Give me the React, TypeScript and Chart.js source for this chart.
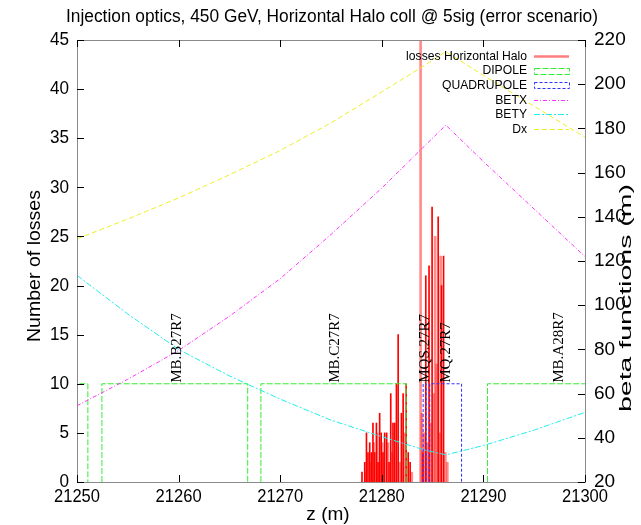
import React, { useEffect, useRef } from "react";
import { Chart, registerables } from "chart.js";

Chart.register(...registerables);

// ---- loss histogram (impulses along z) ----
const lossZ = [
  21278.05, 21278.32, 21278.49, 21278.64, 21278.81, 21278.98, 21279.13, 21279.3,
  21279.47, 21279.63, 21279.79, 21279.94, 21280.12, 21280.28, 21280.48, 21280.71,
  21280.88, 21281.1, 21281.27, 21281.44, 21281.61, 21281.93, 21282.1, 21282.4,
  21282.6, 21282.79, 21284.05, 21284.33, 21284.65, 21284.95, 21285.55, 21285.88,
  21286.08,
];
const lossCounts = [
  1, 2, 5, 3, 4, 3, 6, 3,
  6, 2, 7, 5, 3, 5, 5, 2,
  9, 6, 6, 10, 15, 7, 9, 10,
  3, 2, 3, 21, 22, 28, 27, 20,
  23,
];
const faintLossZ = [
  21278.4, 21278.9, 21279.2, 21279.55, 21280.05, 21280.6, 21281.0, 21281.8,
  21282.25, 21282.95, 21283.82, 21283.95, 21284.15, 21284.48, 21284.8, 21285.1,
  21285.25, 21285.4, 21285.68, 21285.8, 21286.25, 21286.45,
];
const faintLossCounts = [
  1, 2, 4, 5, 4, 4, 3, 2,
  5, 1, 60, 7, 5, 4, 6, 9,
  25, 12, 5, 23, 3, 2,
];

// ---- optics functions (m) ----
const opticsZ = [21250, 21255, 21260, 21265, 21270, 21275, 21280, 21284.2, 21286.3, 21290, 21295, 21300];
const betx = [54.5, 66.5, 79.5, 95, 112, 132, 153, 172, 181.5, 165, 143.5, 122];
const bety = [113.5, 96, 80, 68, 57.5, 48, 40.5, 34.5, 32.3, 36.5, 43.5, 51.5];
const dispX = [130, 139, 148.5, 159, 170, 182.5, 196.5, 208.5, 214.7, 204, 190, 176];

// ---- magnet apertures ----
const dipoleStart = [21240, 21252.45, 21268.1, 21290.4];
const dipoleEnd = [21251.07, 21266.8, 21282.4, 21310];
const quadStart = [21284.07, 21284.72];
const quadEnd = [21284.36, 21287.85];
const magnetLevel = 10;

const elementNames = ["MB.B27R7", "MB.C27R7", "MQS.27R7", "MQ.27R7", "MB.A28R7"];
const elementZ = [21259.8, 21275.4, 21284.3, 21286.3, 21297.4];

const TITLE = "Injection optics, 450 GeV, Horizontal Halo coll @ 5sig (error scenario)";
const SANS = '"Liberation Sans", Arial, sans-serif';
const SERIF = '"Liberation Serif", "DejaVu Serif", serif';

const C_LOSS = "#ff0000";
const C_LOSS_FAINT = "rgba(255,0,0,0.45)";
const C_DIPOLE = "#33ee33";
const C_QUAD = "#3030ff";
const C_BETX = "#ff33ff";
const C_BETY = "#22eeee";
const C_DX = "#eeee22";

const D_DIPOLE = [6, 2];
const D_QUAD = [3, 2];
const D_BETX = [4, 2, 1, 2];
const D_BETY = [6, 2, 2, 2];
const D_DX = [5, 3];

function boxOutline(starts: number[], ends: number[], level: number) {
  const pts: { x: number; y: number | null }[] = [];
  starts.forEach((s, i) => {
    pts.push({ x: s, y: 0 }, { x: s, y: level }, { x: ends[i], y: level }, { x: ends[i], y: 0 }, { x: ends[i], y: null });
  });
  return pts;
}

function pairs(xs: number[], ys: number[]) {
  return xs.map((x, i) => ({ x, y: ys[i] }));
}

function text(
  ctx: CanvasRenderingContext2D,
  s: string,
  x: number,
  y: number,
  o: { font: string; align?: CanvasTextAlign; baseline?: CanvasTextBaseline; sx?: number; rot?: number; length?: number; color?: string }
) {
  ctx.save();
  ctx.font = o.font;
  ctx.fillStyle = o.color || "#000";
  ctx.translate(x, y);
  if (o.rot) ctx.rotate(o.rot);
  let k = o.sx ?? 1;
  if (o.length) k = o.length / ctx.measureText(s).width;
  ctx.scale(k, 1);
  ctx.textAlign = o.align || "center";
  ctx.textBaseline = o.baseline || "middle";
  ctx.fillText(s, 0, 0);
  ctx.restore();
}

const decor = {
  id: "decor",
  afterDatasetsDraw(chart: any) {
    const ctx: CanvasRenderingContext2D = chart.ctx;
    const xs = chart.scales.x;
    const ys = chart.scales.y;
    // element names, rotated, starting at the magnet top
    elementNames.forEach((name, i) => {
      text(ctx, name, xs.getPixelForValue(elementZ[i]), ys.getPixelForValue(magnetLevel) - 1, {
        font: `15px ${SERIF}`,
        align: "left",
        rot: -Math.PI / 2,
      });
    });
  },
  afterDraw(chart: any) {
    const ctx: CanvasRenderingContext2D = chart.ctx;
    const a = chart.chartArea;
    const xs = chart.scales.x;
    const ys = chart.scales.y;
    const y2 = chart.scales.y2;

    // frame
    ctx.save();
    ctx.strokeStyle = "#8a8a8a";
    ctx.lineWidth = 1;
    ctx.strokeRect(Math.round(a.left) + 0.5, Math.round(a.top) + 0.5, Math.round(a.right - a.left), Math.round(a.bottom - a.top));

    // inward ticks
    const TL = 7;
    ctx.strokeStyle = "#000";
    ctx.beginPath();
    xs.ticks.forEach((t: any) => {
      const px = Math.round(xs.getPixelForValue(t.value)) + 0.5;
      ctx.moveTo(px, a.bottom);
      ctx.lineTo(px, a.bottom - TL);
      ctx.moveTo(px, a.top);
      ctx.lineTo(px, a.top + TL);
    });
    ys.ticks.forEach((t: any) => {
      const py = Math.round(ys.getPixelForValue(t.value)) + 0.5;
      ctx.moveTo(a.left, py);
      ctx.lineTo(a.left + TL, py);
    });
    y2.ticks.forEach((t: any) => {
      const py = Math.round(y2.getPixelForValue(t.value)) + 0.5;
      ctx.moveTo(a.right, py);
      ctx.lineTo(a.right - TL, py);
    });
    ctx.stroke();
    ctx.restore();

    // tick labels
    const tickFont = `19px ${SANS}`;
    xs.ticks.forEach((t: any) => {
      text(ctx, String(t.value), xs.getPixelForValue(t.value), a.bottom + 15, { font: tickFont, sx: 0.87 });
    });
    ys.ticks.forEach((t: any) => {
      text(ctx, String(t.value), a.left - 8, ys.getPixelForValue(t.value), { font: tickFont, sx: 0.9, align: "right" });
    });
    y2.ticks.forEach((t: any) => {
      text(ctx, String(t.value), a.right + 9, y2.getPixelForValue(t.value), { font: tickFont, sx: 1.0, align: "left" });
    });

    // titles
    text(ctx, TITLE, 332, 17, { font: `18px ${SANS}`, length: 532 });
    text(ctx, "z (m)", 328, 515, { font: `19px ${SANS}` });
    text(ctx, "Number of losses", 35, 266, { font: `19px ${SANS}`, rot: -Math.PI / 2, length: 152 });
    text(ctx, "beta functions (m)", 626, 298, { font: `17px ${SANS}`, rot: -Math.PI / 2, length: 228 });

    // key
    const entries = [
      { label: "losses Horizontal Halo", kind: "solid", color: "rgba(255,0,0,0.5)", dash: [] as number[] },
      { label: "DIPOLE", kind: "box", color: C_DIPOLE, dash: D_DIPOLE },
      { label: "QUADRUPOLE", kind: "box", color: C_QUAD, dash: D_QUAD },
      { label: "BETX", kind: "line", color: C_BETX, dash: D_BETX },
      { label: "BETY", kind: "line", color: C_BETY, dash: D_BETY },
      { label: "Dx", kind: "line", color: C_DX, dash: D_DX },
    ];
    const kx0 = 534;
    const kx1 = 569;
    entries.forEach((e, i) => {
      const ry = 56 + i * 14.6;
      text(ctx, e.label, 527, ry, { font: `13.5px ${SANS}`, sx: 0.9, align: "right" });
      ctx.save();
      ctx.strokeStyle = e.color;
      ctx.setLineDash(e.dash);
      if (e.kind === "box") {
        ctx.lineWidth = 1;
        ctx.strokeRect(kx0 + 0.5, Math.round(ry) - 3 + 0.5, kx1 - kx0, 6);
      } else {
        ctx.lineWidth = e.kind === "solid" ? 2.5 : 1;
        ctx.beginPath();
        ctx.moveTo(kx0, Math.round(ry) + 0.5);
        ctx.lineTo(kx1, Math.round(ry) + 0.5);
        ctx.stroke();
      }
      ctx.restore();
    });
  },
};

export default function App() {
  const ref = useRef<HTMLCanvasElement>(null);

  useEffect(() => {
    const canvas = ref.current;
    if (!canvas) return;

    const lineBase = {
      type: "line" as const,
      yAxisID: "y2",
      pointRadius: 0,
      borderWidth: 1,
      fill: false,
      tension: 0,
    };

    const chart = new Chart(canvas, {
      type: "bar",
      data: {
        datasets: [
          {
            type: "bar",
            label: "losses Horizontal Halo",
            data: pairs(faintLossZ, faintLossCounts),
            backgroundColor: C_LOSS_FAINT,
            barThickness: 2,
            grouped: false,
            yAxisID: "y",
            order: 7,
          },
          {
            type: "bar",
            label: "losses Horizontal Halo",
            data: pairs(lossZ, lossCounts),
            backgroundColor: C_LOSS,
            barThickness: 1,
            grouped: false,
            yAxisID: "y",
            order: 6,
          },
          {
            type: "line",
            label: "DIPOLE",
            data: boxOutline(dipoleStart, dipoleEnd, magnetLevel),
            borderColor: C_DIPOLE,
            borderDash: D_DIPOLE,
            borderWidth: 1,
            pointRadius: 0,
            yAxisID: "y",
            spanGaps: false,
            order: 5,
          },
          {
            type: "line",
            label: "QUADRUPOLE",
            data: boxOutline(quadStart, quadEnd, magnetLevel),
            borderColor: C_QUAD,
            borderDash: D_QUAD,
            borderWidth: 1,
            pointRadius: 0,
            yAxisID: "y",
            spanGaps: false,
            order: 4,
          },
          { ...lineBase, label: "BETX", data: pairs(opticsZ, betx), borderColor: C_BETX, borderDash: D_BETX, order: 3 },
          { ...lineBase, label: "BETY", data: pairs(opticsZ, bety), borderColor: C_BETY, borderDash: D_BETY, order: 2 },
          { ...lineBase, label: "Dx", data: pairs(opticsZ, dispX), borderColor: C_DX, borderDash: D_DX, order: 1 },
        ] as any,
      },
      options: {
        responsive: false,
        animation: false,
        layout: { padding: { top: 40, left: 0, right: 0, bottom: 0 } },
        plugins: {
          legend: { display: false },
          tooltip: { enabled: false },
          title: { display: false },
        },
        scales: {
          x: {
            type: "linear",
            min: 21250,
            max: 21300,
            offset: false,
            ticks: { stepSize: 10, display: false },
            grid: { display: false },
            border: { display: false },
            afterFit: (s: any) => {
              s.height = 43;
            },
          },
          y: {
            type: "linear",
            position: "left",
            min: 0,
            max: 45,
            ticks: { stepSize: 5, display: false },
            grid: { display: false },
            border: { display: false },
            afterFit: (s: any) => {
              s.width = 77;
            },
          },
          y2: {
            type: "linear",
            position: "right",
            min: 20,
            max: 220,
            ticks: { stepSize: 20, display: false },
            grid: { display: false },
            border: { display: false },
            afterFit: (s: any) => {
              s.width = 56;
            },
          },
        },
      },
      plugins: [decor as any],
    });

    return () => chart.destroy();
  }, []);

  return (
    <div style={{ position: "absolute", left: 0, top: 0, width: 641, height: 525, background: "#fff" }}>
      <canvas ref={ref} width={641} height={525} style={{ display: "block" }} />
    </div>
  );
}
